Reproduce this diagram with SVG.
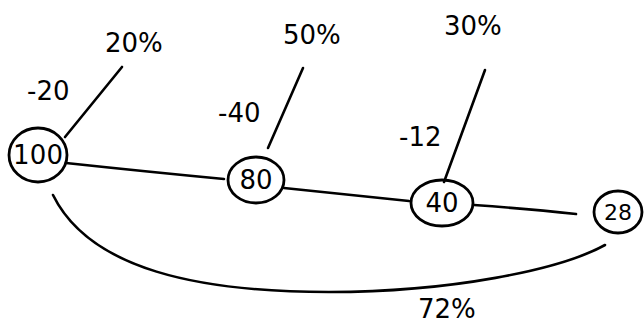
<svg xmlns="http://www.w3.org/2000/svg" width="644" height="326" viewBox="0 0 644 326">
<style>
.n{fill:none;stroke:#000;stroke-width:2.8}
.c{fill:none;stroke:#000;stroke-width:2.6;stroke-linecap:round}
.t{font-family:"Comic Sans MS","DejaVu Sans",sans-serif;font-size:26px;fill:#000}
.m{text-anchor:middle}
</style>
<rect width="644" height="326" fill="#fff"/>
<g id="connectors">
<path class="c" d="M66,163 Q150,172 224,179"/>
<path class="c" d="M284,188 Q350,195 409,201"/>
<path class="c" d="M474,205 Q530,209 576,214"/>
<path class="c" d="M53,195 C90,270 200,292 329,292 C450,292 560,270 605,245"/>
<path class="c" d="M122,67 L65,137"/>
<path class="c" d="M303,68 L268,148"/>
<path class="c" d="M485,70 L444,182"/>
</g>
<g id="node-100"><ellipse class="n" cx="38" cy="155" rx="29" ry="27"/><text class="t m" x="38" y="164" textLength="50">100</text></g>
<g id="node-80"><ellipse class="n" cx="256" cy="180" rx="28" ry="23"/><text class="t m" x="256" y="189">80</text></g>
<g id="node-40"><ellipse class="n" cx="442" cy="203" rx="31" ry="23"/><text class="t m" x="442" y="212">40</text></g>
<g id="node-28"><ellipse class="n" cx="618" cy="212" rx="24" ry="21"/><text class="t m" x="618" y="220" style="font-size:22px">28</text></g>
<g id="labels">
<text class="t" x="105" y="52">20%</text>
<text class="t" x="27" y="100">-20</text>
<text class="t" x="283" y="44">50%</text>
<text class="t" x="218" y="122">-40</text>
<text class="t" x="444" y="35">30%</text>
<text class="t" x="399" y="146">-12</text>
<text class="t" x="418" y="318">72%</text>
</g>
</svg>
